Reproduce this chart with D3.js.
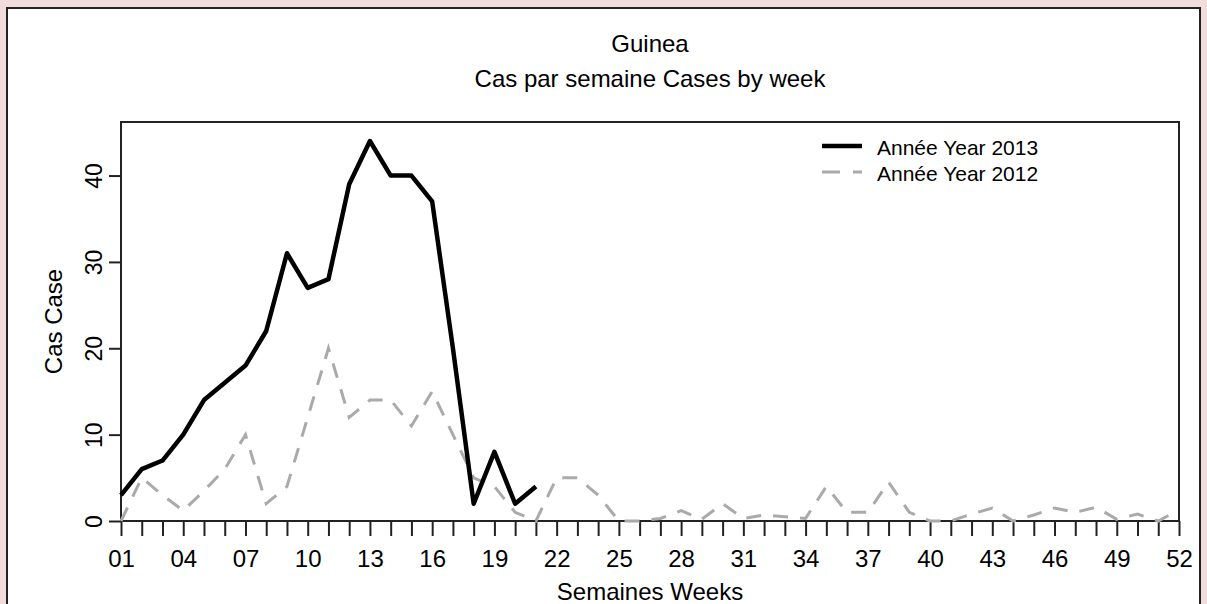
<!DOCTYPE html>
<html>
<head>
<meta charset='utf-8' />
<title>Guinea</title>
<style>
  body{ margin:0; background:#f2dcdb; }
  svg{ display:block; }
  text{ font-family: "Liberation Sans", Arial, sans-serif; fill:#000; }
</style>
</head>
<body>
<script src="https://d3js.org/d3.v7.min.js"></script>
<script>

let weeks = d3.range(1, 53)
let tickWeeks = [1,4,7,10,13,16,19,22,25,28,31,34,37,40,43,46,49,52]
let yTicks = [0,10,20,30,40]

let cases2013 = [3,6,7,10,14,16,18,22,31,27,28,39,44,40,40,37,20,2,8,2,4]
let cases2012 = [0,5,3,1.2,3.5,6,10,2,4,12,20,12,14,14,11,15,10,5,4,1,0,5,5,3,0,0,0.3,1.2,0.2,2,
  0.3,0.7,0.5,0.3,4,1,1,4.5,1,0,0,0.8,1.5,0,0.7,1.5,1,1.6,0.2,0.8,0,1.3]

let legendLabels = ['Année Year 2013', 'Année Year 2012']

let width = 1207, height = 604,
  pLeft = 121, pRight = 1179, pTop = 122, pBottom = 521

let svg = d3.select('body').append('svg').attr('width', width).attr('height', height)

// outer panel
svg.append('rect').attr('x', 7).attr('y', 8).attr('width', 1193).attr('height', 640)
  .style('fill', '#fff').style('stroke', '#222').style('stroke-width', 2)

let x = d3.scaleLinear().domain([1, 52]).range([pLeft, pRight]),
  y = d3.scaleLinear().domain([0, 46.2]).range([pBottom, pTop])

// titles
svg.append('text').attr('x', (pLeft+pRight)/2).attr('y', 52).attr('text-anchor','middle')
  .style('font-size','24px').text('Guinea')
svg.append('text').attr('x', (pLeft+pRight)/2).attr('y', 87).attr('text-anchor','middle')
  .style('font-size','24px').text('Cas par semaine Cases by week')

// plot box
svg.append('path')
  .attr('d', 'M'+pLeft+','+pBottom+'V'+pTop+'H'+pRight+'V'+pBottom)
  .style('fill','none').style('stroke','#222').style('stroke-width', 2)

// x axis
let xAxis = d3.axisBottom(x).tickValues(weeks).tickSize(15).tickPadding(14)
  .tickFormat(d => tickWeeks.includes(d) ? d3.format('02d')(d) : '')
let gx = svg.append('g').attr('transform','translate(0,'+pBottom+')').call(xAxis)
gx.select('.domain').remove()
gx.append('line').attr('x1', pLeft).attr('x2', pRight).style('stroke','#222').style('stroke-width',2)
gx.selectAll('.tick line').style('stroke','#222').style('stroke-width',2)
gx.selectAll('.tick text').style('font-size','24px').style('font-family','"Liberation Sans", Arial, sans-serif').attr('fill','#000')

// y axis
let yAxis = d3.axisLeft(y).tickValues(yTicks).tickSize(12).tickPadding(0)
let gy = svg.append('g').attr('transform','translate('+pLeft+',0)').call(yAxis)
gy.select('.domain').remove()
gy.selectAll('.tick line').style('stroke','#222').style('stroke-width',2)
gy.selectAll('.tick text')
  .attr('x', 0).attr('dy', 0)
  .attr('transform','translate(-19,0) rotate(-90)')
  .attr('text-anchor','middle')
  .style('font-size','23px').style('font-family','"Liberation Sans", Arial, sans-serif').attr('fill','#000')

// axis titles
svg.append('text').attr('x', (pLeft+pRight)/2).attr('y', 600).attr('text-anchor','middle')
  .style('font-size','24px').text('Semaines Weeks')
svg.append('text').attr('transform','translate(62,'+((pTop+pBottom)/2)+') rotate(-90)')
  .attr('text-anchor','middle').style('font-size','24px').text('Cas Case')

let line = d3.line().x((d,i) => x(weeks[i])).y(d => y(d))

svg.append('path').datum(cases2012).attr('d', line)
  .style('fill','none').style('stroke','#aaa').style('stroke-width',3)
  .style('stroke-dasharray','15,12')

svg.append('path').datum(cases2013).attr('d', line)
  .style('fill','none').style('stroke','#000').style('stroke-width',4.5)
  .style('stroke-linejoin','round')

// legend
let legendStyles = [{stroke:'#000', w:4.5, dash:null}, {stroke:'#aaa', w:3, dash:'18,13'}]
let lg = svg.append('g')
legendLabels.forEach((lab, i) => {
  let ly = 146 + i*26
  lg.append('line').attr('x1', 822).attr('x2', 862).attr('y1', ly).attr('y2', ly)
    .style('stroke', legendStyles[i].stroke).style('stroke-width', legendStyles[i].w)
    .style('stroke-dasharray', legendStyles[i].dash)
  lg.append('text').attr('x', 877).attr('y', ly + 9).style('font-size','21px').text(lab)
})

</script>
</body>
</html>
